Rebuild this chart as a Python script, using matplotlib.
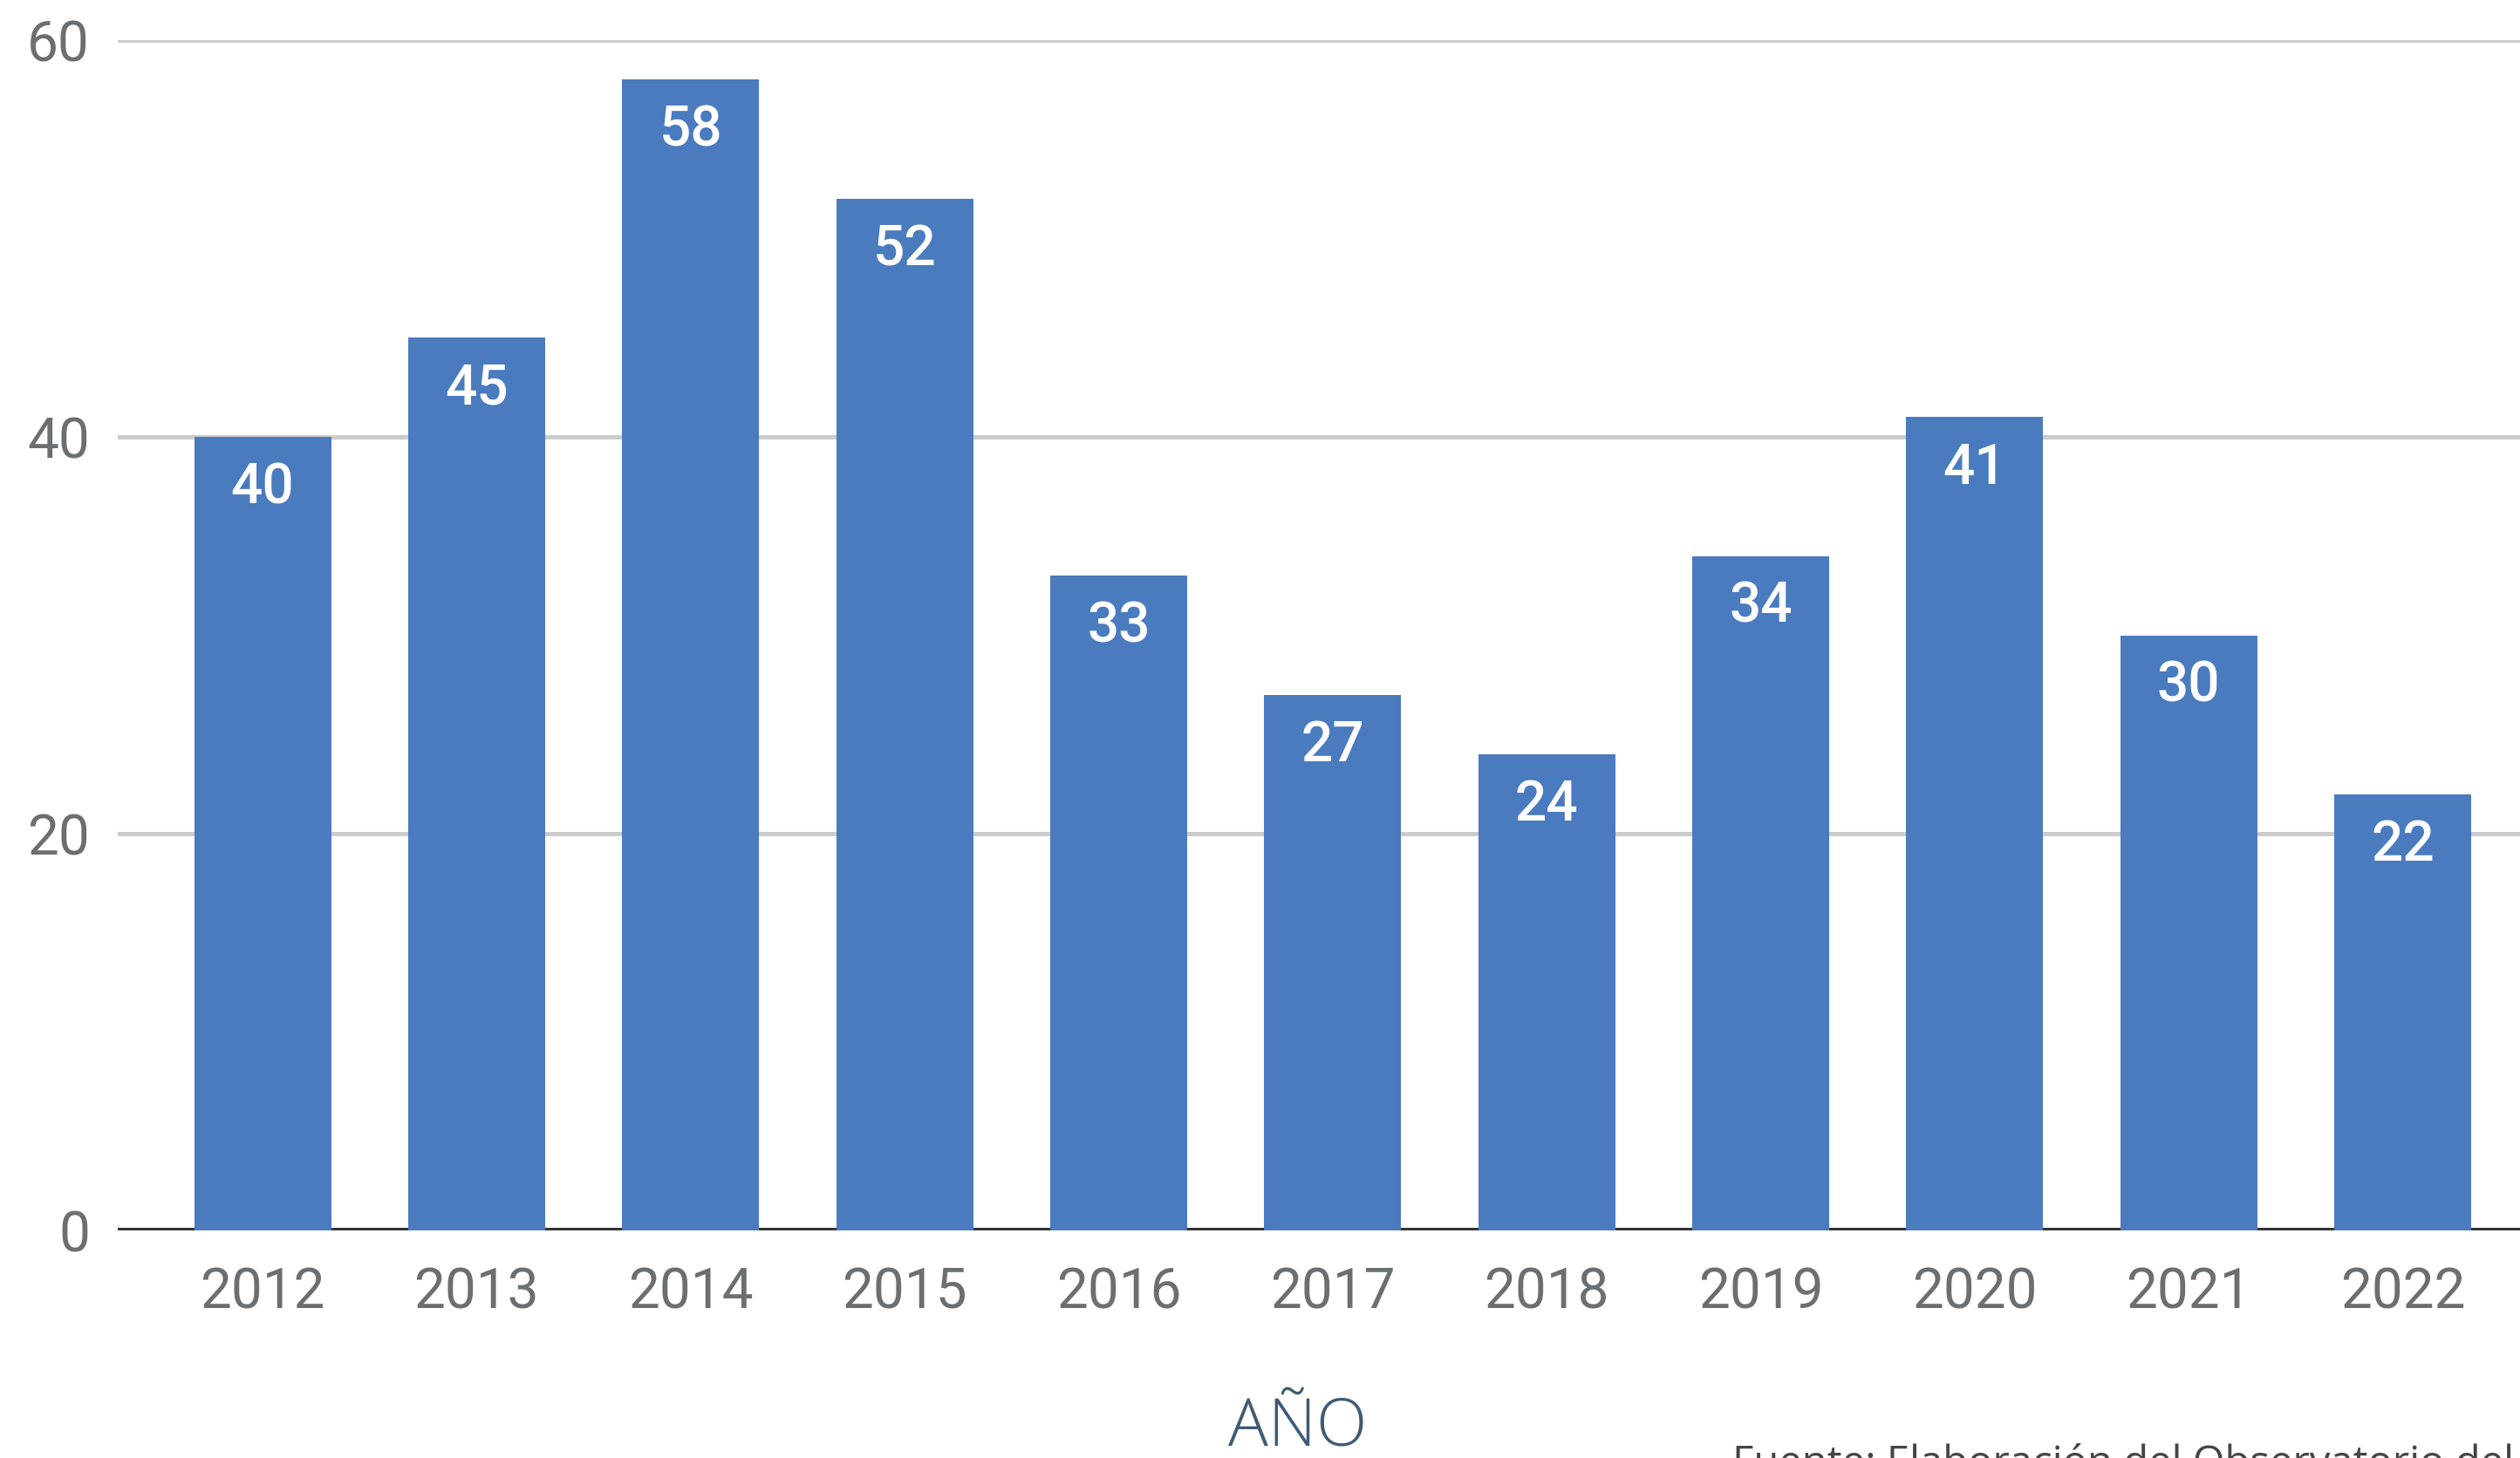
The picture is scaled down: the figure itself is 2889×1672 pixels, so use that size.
import matplotlib
matplotlib.use("Agg")
import matplotlib.pyplot as plt

# Data
years = ['2012', '2013', '2014', '2015', '2016', '2017', '2018', '2019', '2020', '2021', '2022']
values = [40, 45, 58, 52, 33, 27, 24, 34, 41, 30, 22]
y_ticks = [0, 20, 40, 60]

bar_color = '#4a7bbf'
tick_color = '#6b6f72'

fig = plt.figure(figsize=(28.89, 16.72), dpi=100)
fig.patch.set_facecolor('white')
ax = fig.add_axes([0.0467, 0.156, 0.9533, 0.8165])

x = list(range(len(years)))
bars = ax.bar(x, values, width=0.64, color=bar_color, zorder=3)

# Value labels inside bar tops
for xi, v in zip(x, values):
    ax.annotate(str(v), (xi, v), xytext=(0, -42), textcoords='offset points',
                ha='center', va='center', color='white', fontsize=46,
                family='Roboto', fontweight='medium', zorder=4)

ax.set_xlim(-0.677, 10.548)
ax.set_ylim(0, 60)

# Gridlines
for t in y_ticks[1:]:
    ax.axhline(t, color='#cccccc', lw=3.6, zorder=1)
ax.axhline(0, color='#333333', lw=5, zorder=2)

ax.set_xticks(x)
ax.set_xticklabels(years)
ax.set_yticks(y_ticks)
ax.tick_params(axis='x', length=0, pad=29, labelsize=46, labelcolor=tick_color)
ax.tick_params(axis='y', length=0, pad=23, labelsize=46, labelcolor=tick_color)
for lab in ax.get_xticklabels() + ax.get_yticklabels():
    lab.set_family('Roboto')

for s in ax.spines.values():
    s.set_visible(False)

# Axis title and source note (the source note is cut by the bottom edge, as in the original)
fig.text(0.515, 1 - 1638 / 1672, 'AÑO', ha='center', va='center', fontsize=55,
         family='Open Sans', fontweight='light', color='#3f5b74')
fig.text(1986 / 2889, 1 - 1656 / 1672, 'Fuente: Elaboración del Observatorio del E',
         ha='left', va='top', fontsize=34, family='Open Sans', color='#444444')

fig.savefig('out.png', dpi=100, facecolor='white')
